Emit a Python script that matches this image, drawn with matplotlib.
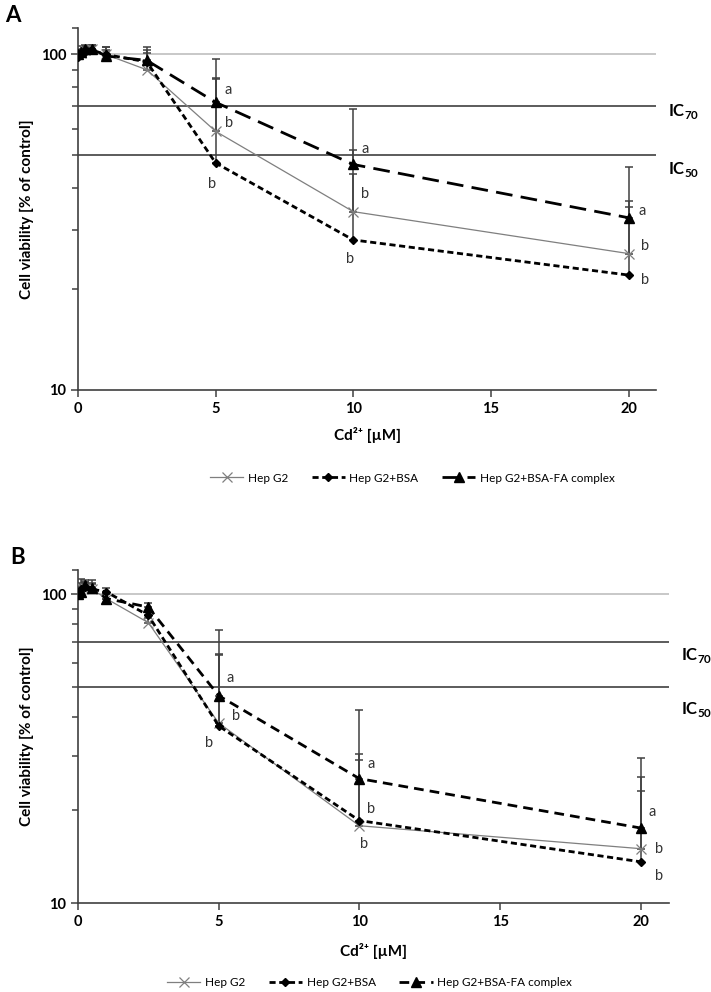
import matplotlib
matplotlib.use("Agg")
import matplotlib.pyplot as plt
import matplotlib.ticker as mticker
import numpy as np

plt.rcParams["font.family"] = ["Lato", "DejaVu Sans"]
plt.rcParams["mathtext.fontset"] = "custom"
plt.rcParams["mathtext.rm"] = "Lato"
plt.rcParams["mathtext.bf"] = "Lato:bold"

# concentrations of Cd2+ [uM]
cd = [0, 0.1, 0.25, 0.5, 1, 2.5, 5, 10, 20]
labels = ["Hep G2", "Hep G2+BSA", "Hep G2+BSA-FA complex"]

# panel A: cell viability [% of control] and upper error
a_hepg2 = [100, 101, 103, 104, 100, 90, 59, 34, 25.5]
a_hepg2_err = [3, 3, 3, 3, 5, 15, 26, 18, 11]
a_bsa = [98, 100, 102, 103, 100, 95, 47.5, 28, 22]
a_bsa_err = [4, 3, 3, 3, 3, 8, 37, 16, 13]
a_fa = [100, 102, 104, 104, 99, 96, 72, 47, 32.6]
a_fa_err = [3, 4, 3, 3, 6, 5, 25, 22, 13.5]

# panel B
b_hepg2 = [100, 106, 105, 104, 97, 81, 38.3, 17.8, 15]
b_hepg2_err = [4, 6, 5, 7, 3, 3, 26, 12.5, 10.7]
b_bsa = [100, 104, 106, 104, 102, 85.5, 37.5, 18.5, 13.6]
b_bsa_err = [5, 5, 4, 4, 3, 3, 26, 10.5, 9.4]
b_fa = [100, 102, 107, 105, 97, 91, 47, 25.3, 17.5]
b_fa_err = [3, 6, 4, 4, 3, 3, 29.5, 17, 12]

# significance letters: (series, index, letter, dx px, dy px)
a_letters = [
    ("fa", 6, "a", 9, -12), ("hepg2", 6, "b", 9, -8), ("bsa", 6, "b", -4, 21),
    ("fa", 7, "a", 8, -15), ("hepg2", 7, "b", 8, -18), ("bsa", 7, "b", -3, 19),
    ("fa", 8, "a", 10, -7), ("hepg2", 8, "b", 12, -8), ("bsa", 8, "b", 12, 5),
]
b_letters = [
    ("fa", 6, "a", 8, -18), ("hepg2", 6, "b", 13, -7), ("bsa", 6, "b", -10, 17),
    ("fa", 7, "a", 8, -15), ("bsa", 7, "b", 8, -12), ("hepg2", 7, "b", 1, 18),
    ("fa", 8, "a", 8, -16), ("hepg2", 8, "b", 14, 0), ("bsa", 8, "b", 14, 14),
]

ic_levels = [70, 50]
err_col = "#404040"
px = 0.72  # points per pixel at 100 dpi

fig = plt.figure(figsize=(7.11, 9.92), dpi=100)
axA = fig.add_axes([0.1097, 0.6069, 0.813, 0.365])
axB = fig.add_axes([0.1097, 0.0897, 0.831, 0.3357])


def draw_panel(ax, data, errs, letters, fa_dash, ic_offsets, xpad):
    ax.set_yscale("log")
    ax.set_ylim(10, 120)
    ax.set_xlim(0, 21)
    ax.axhline(100, color="#bfbfbf", lw=1.2, zorder=0)
    for lev, off in zip(ic_levels, ic_offsets):
        ax.axhline(lev, color="#404040", lw=1.2, zorder=0)
        ax.annotate("IC$_{\\mathbf{%d}}$" % lev, xy=(1, lev),
                    xycoords=("axes fraction", "data"),
                    xytext=(12 * px, -off * px), textcoords="offset points",
                    ha="left", va="center", fontsize=12, fontweight="bold",
                    annotation_clip=False)

    styles = {
        "hepg2": dict(color="#7f7f7f", lw=0.9, marker="x", ms=7, mew=0.9),
        "bsa": dict(color="black", lw=2.0, dashes=(2.2, 1.3), marker="D", ms=4.5),
        "fa": dict(color="black", lw=2.0, dashes=fa_dash, marker="^", ms=7),
    }
    handles = []
    for key, lab in zip(["hepg2", "bsa", "fa"], labels):
        y = np.array(data[key])
        e = np.array(errs[key])
        ax.errorbar(cd, y, yerr=[np.zeros_like(e), e], fmt="none",
                    ecolor=err_col, elinewidth=1.1, capsize=3, capthick=1.1,
                    zorder=2)
        h, = ax.plot(cd, y, label=lab, zorder=3, **styles[key])
        handles.append(h)

    for key, i, t, dx, dy in letters:
        ax.annotate(t, xy=(cd[i], data[key][i]), xytext=(dx * px, -dy * px),
                    textcoords="offset points", ha="left" if dx > 0 else "center",
                    va="center", fontsize=10.5, color="#333333")

    for s in ["top", "right"]:
        ax.spines[s].set_visible(False)
    for s in ["left", "bottom"]:
        ax.spines[s].set_color("#404040")
        ax.spines[s].set_linewidth(1.2)
    ax.set_xticks([0, 5, 10, 15, 20])
    ax.yaxis.set_major_locator(mticker.FixedLocator([10, 100]))
    ax.yaxis.set_major_formatter(mticker.FixedFormatter(["10", "100"]))
    ax.yaxis.set_minor_locator(mticker.FixedLocator([20, 30, 40, 50, 60, 70, 80, 90, 120]))
    ax.yaxis.set_minor_formatter(mticker.NullFormatter())
    ax.tick_params(axis="both", which="major", length=5, width=1.1,
                   color="#404040", labelsize=10.5)
    ax.tick_params(axis="y", which="minor", length=4, width=1.1, color="#404040")
    for lbl in ax.get_xticklabels() + ax.get_yticklabels():
        lbl.set_fontweight("bold")
    ax.set_xlabel("Cd²⁺ [µM]", fontsize=11, fontweight="bold", labelpad=xpad)
    ax.set_ylabel("Cell viability [% of control]", fontsize=11,
                  fontweight="bold", labelpad=5)
    return handles


hA = draw_panel(axA, {"hepg2": a_hepg2, "bsa": a_bsa, "fa": a_fa},
                {"hepg2": a_hepg2_err, "bsa": a_bsa_err, "fa": a_fa_err},
                a_letters, (6, 3), (5, 14), 8)
hB = draw_panel(axB, {"hepg2": b_hepg2, "bsa": b_bsa, "fa": b_fa},
                {"hepg2": b_hepg2_err, "bsa": b_bsa_err, "fa": b_fa_err},
                b_letters, (3.5, 2.2), (13, 22), 10)

leg_kw = dict(loc="center", ncol=3, frameon=False, fontsize=8.5,
              handlelength=2.8, handletextpad=0.4, columnspacing=2.0)
fig.legend(handles=hA, labels=labels, bbox_to_anchor=(0.58, 1 - 478 / 992),
           **leg_kw)
fig.legend(handles=hB, labels=labels, bbox_to_anchor=(0.52, 1 - 983 / 992),
           **leg_kw)

fig.text(13 / 711, 1 - 16 / 992, "A", fontsize=16, fontweight="bold",
         ha="center", va="center")
fig.text(18 / 711, 1 - 558 / 992, "B", fontsize=16, fontweight="bold",
         ha="center", va="center")

fig.savefig("out.png", dpi=100)
